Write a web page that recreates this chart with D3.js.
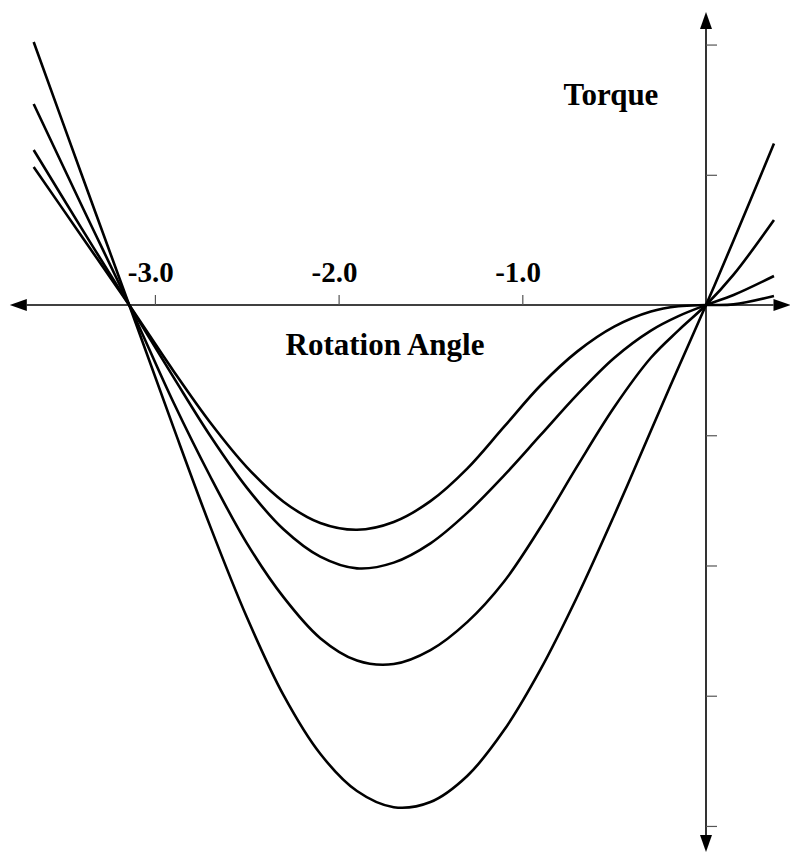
<!DOCTYPE html>
<html>
<head>
<meta charset="utf-8">
<script src="https://cdn.jsdelivr.net/npm/d3@7"></script>
<style>
  body { margin: 0; background: #fff; }
  text { font-family: "Liberation Serif", "Times New Roman", serif; font-weight: bold; }
</style>
</head>
<body>
<svg id="chart" width="790" height="854"></svg>
<script>
// rotation angle samples (shared by every curve)
var angles = [-3.66, -3.4, -3.14, -2.9, -2.7, -2.5, -2.3, -2.1, -1.9, -1.7, -1.5,
              -1.3, -1.1, -0.9, -0.7, -0.5, -0.3, -0.15, 0, 0.15, 0.37];

// torque values, deepest curve first
var torqueA = [2.02, 1.006, 0, -0.936, -1.696, -2.396, -2.996, -3.446, -3.732, -3.856, -3.816,
               -3.616, -3.266, -2.796, -2.236, -1.616, -0.966, -0.479, 0, 0.495, 1.24];
var torqueB = [1.544, 0.768, 0, -0.745, -1.313, -1.828, -2.243, -2.558, -2.73, -2.757, -2.65,
               -2.435, -2.125, -1.705, -1.235, -0.785, -0.405, -0.195, 0, 0.233, 0.653];
var torqueC = [1.19, 0.591, 0, -0.552, -1.002, -1.402, -1.722, -1.932, -2.022, -1.978, -1.83,
               -1.596, -1.31, -0.998, -0.686, -0.406, -0.196, -0.085, 0, 0.077, 0.223];
var torqueD = [1.06, 0.53, 0, -0.504, -0.9, -1.244, -1.51, -1.674, -1.726, -1.666, -1.506,
               -1.256, -0.936, -0.616, -0.356, -0.166, -0.05, -0.01, 0, 0.005, 0.069];

var xTicks = [-3, -2, -1];
var yTicks = [2, 1, -1, -2, -3, -4];
var xLabel = "Rotation Angle";
var yLabel = "Torque";

function plot_axes(svg, x, y) {
  var x0 = x(0), y0 = y(0);
  var xr = x.range(), yr = y.range();
  var head = 17, half = 6;

  // axis lines
  svg.append("line")
    .attr("x1", xr[0] + head).attr("x2", xr[1] - head)
    .attr("y1", y0).attr("y2", y0)
    .attr("stroke", "#000").attr("stroke-width", 1.6);
  svg.append("line")
    .attr("x1", x0).attr("x2", x0)
    .attr("y1", yr[0] + head).attr("y2", yr[1] - head)
    .attr("stroke", "#000").attr("stroke-width", 1.6);

  // arrow heads at the ends of both axes
  var arrows = [
    [[xr[0], y0], [xr[0] + head, y0 - half], [xr[0] + head, y0 + half]],
    [[xr[1], y0], [xr[1] - head, y0 - half], [xr[1] - head, y0 + half]],
    [[x0, yr[0]], [x0 - half, yr[0] + head], [x0 + half, yr[0] + head]],
    [[x0, yr[1]], [x0 - half, yr[1] - head], [x0 + half, yr[1] - head]]
  ];
  svg.selectAll("path.arrow")
    .data(arrows)
    .enter().append("path")
    .attr("class", "arrow")
    .attr("d", function(d) { return "M" + d.join("L") + "Z"; })
    .attr("fill", "#000");

  var xAxis = d3.axisTop(x)
    .tickValues(xTicks)
    .tickSize(10)
    .tickPadding(13)
    .tickFormat(function(d) { return d.toFixed(1); });

  var gx = svg.append("g")
    .attr("transform", "translate(0," + y0 + ")")
    .call(xAxis);
  gx.select(".domain").remove();
  gx.selectAll(".tick line").attr("stroke", "#555").attr("stroke-width", 1.2);
  gx.selectAll(".tick text")
    .attr("fill", "#000")
    .attr("dx", "-0.16em")
    .style("font-family", "'Liberation Serif', 'Times New Roman', serif")
    .style("font-weight", "bold")
    .style("font-size", "29px");

  var yAxis = d3.axisRight(y)
    .tickValues(yTicks)
    .tickSize(11)
    .tickFormat("");

  var gy = svg.append("g")
    .attr("transform", "translate(" + x0 + ",0)")
    .call(yAxis);
  gy.select(".domain").remove();
  gy.selectAll(".tick line").attr("stroke", "#555").attr("stroke-width", 1.2);

  svg.append("text")
    .attr("x", 385)
    .attr("y", 355)
    .attr("text-anchor", "middle")
    .style("font-size", "31px")
    .text(xLabel);

  svg.append("text")
    .attr("x", 611)
    .attr("y", 105)
    .attr("text-anchor", "middle")
    .style("font-size", "31px")
    .text(yLabel);
}

function plot_curve(svg, x, y, values) {
  var line = d3.line()
    .x(function(d, i) { return x(angles[i]); })
    .y(function(d) { return y(d); })
    .curve(d3.curveCatmullRom.alpha(0.5));

  svg.append("path")
    .datum(values)
    .attr("fill", "none")
    .attr("stroke", "#000")
    .attr("stroke-width", 2.6)
    .attr("stroke-linejoin", "round")
    .attr("d", line);
}

var svg = d3.select("#chart");
var x = d3.scaleLinear().domain([-3.79, 0.46]).range([9.8, 790.5]);
var y = d3.scaleLinear().domain([2.25, -4.2]).range([12, 852]);

plot_axes(svg, x, y);
[torqueA, torqueB, torqueC, torqueD].forEach(function(v) {
  plot_curve(svg, x, y, v);
});
</script>
</body>
</html>
